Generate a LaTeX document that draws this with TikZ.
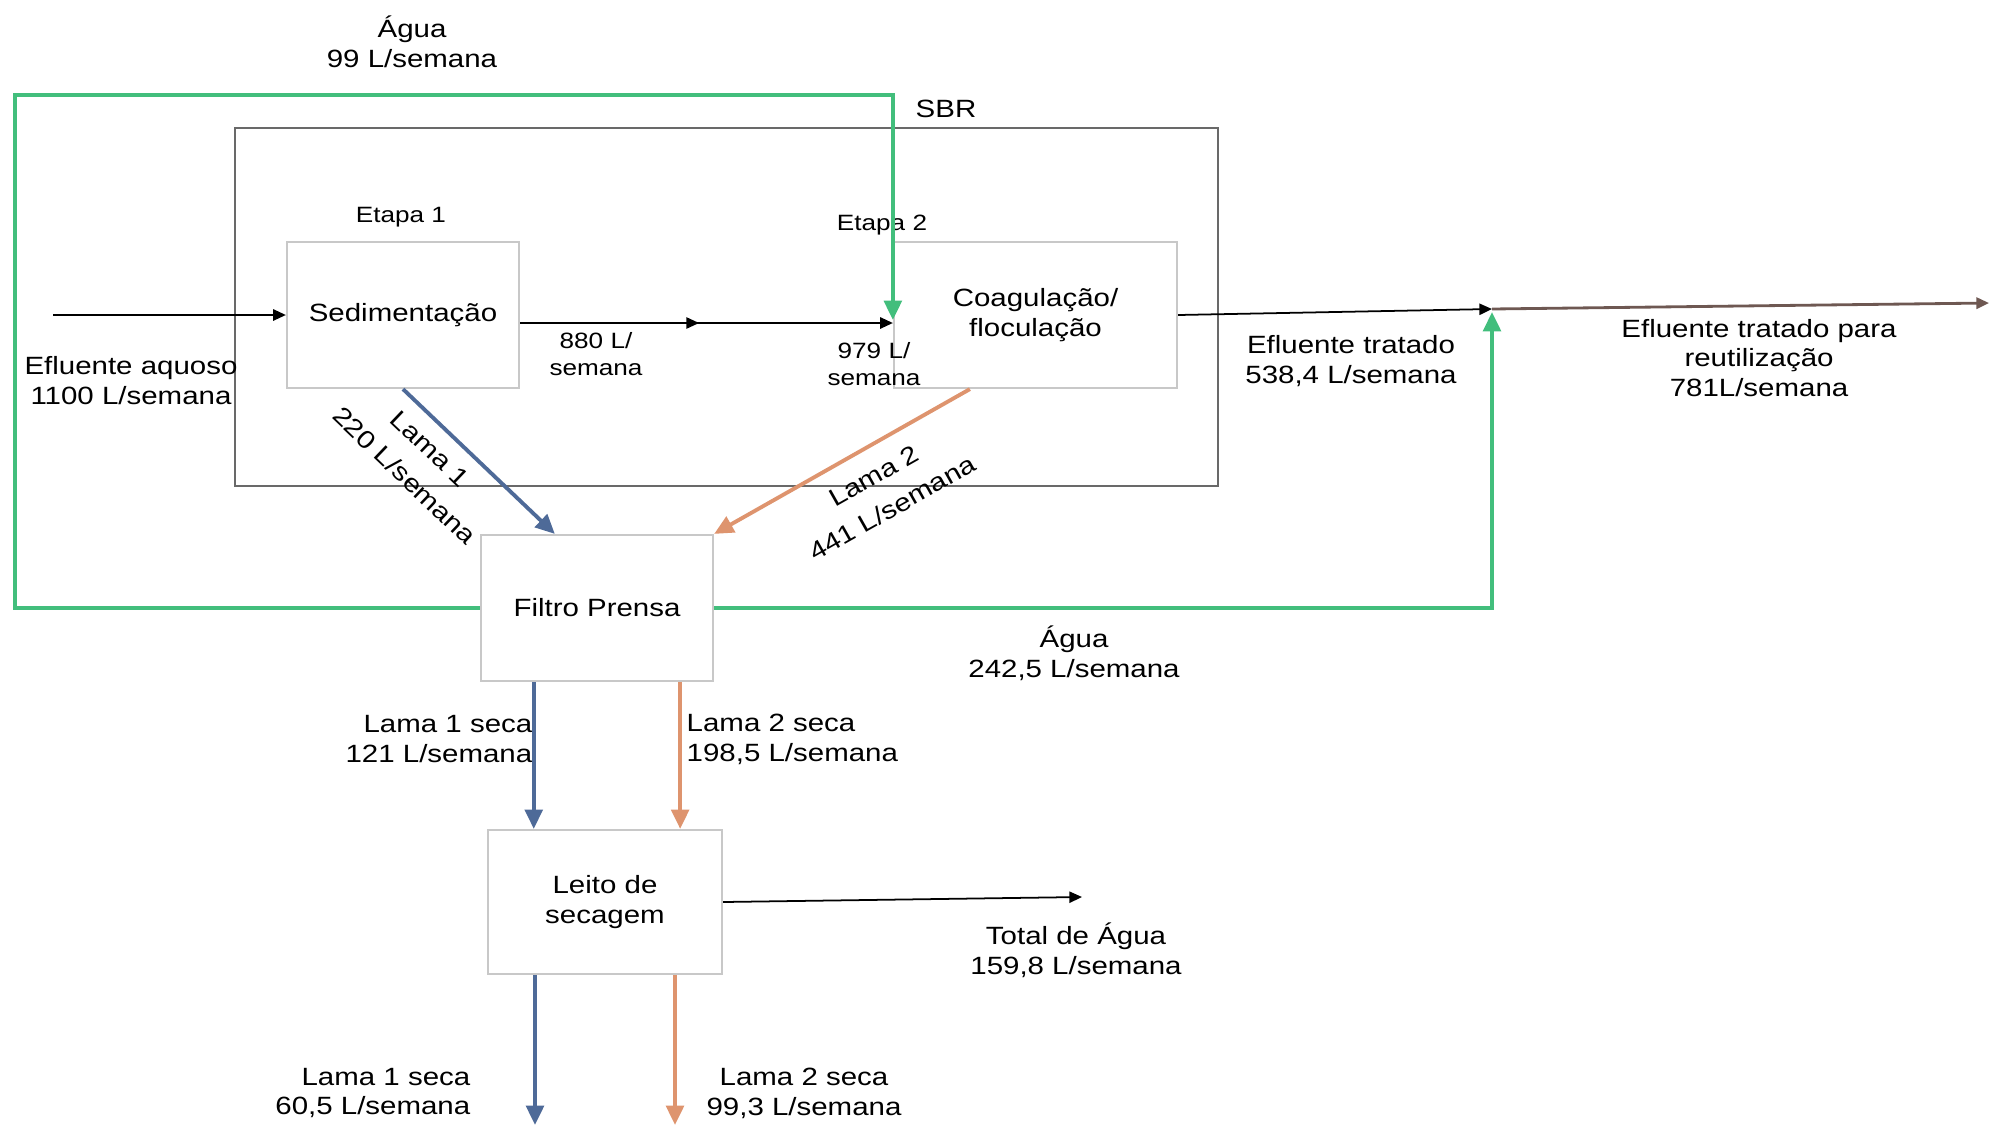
\documentclass[tikz,border=0pt]{standalone}
\usepackage{fontspec}
\setmainfont{Liberation Sans}[FakeStretch=1.18]
\usetikzlibrary{arrows.meta,calc,decorations.markings}

\definecolor{verdeagua}{RGB}{66,190,124}
\definecolor{azullama}{RGB}{78,106,152}
\definecolor{laranjalama}{RGB}{222,148,110}
\definecolor{cinzacaixa}{RGB}{200,200,200}
\definecolor{cinzasbr}{RGB}{105,105,105}
\definecolor{marromsaida}{RGB}{110,88,82}

\newcommand{\txtnormal}{\fontsize{7.1pt}{8.5pt}\selectfont}
\newcommand{\txtpeq}{\fontsize{6.3pt}{7.9pt}\selectfont}

\tikzset{
  caixa/.style={draw=cinzacaixa, line width=0.6pt, minimum width=2.32cm, minimum height=1.46cm, align=center, inner sep=0pt, font=\txtnormal},
  rotulo/.style={align=center, inner sep=0pt, font=\txtnormal},
  rotulopeq/.style={align=center, inner sep=0pt, font=\txtpeq},
  fluxo/.style={line width=0.5pt, -{Triangle[length=3.6pt,width=3.2pt]}},
  meio/.style={postaction={decorate}, decoration={markings, mark=at position 0.48 with {\arrow{Triangle[length=3.6pt,width=3.2pt]}}}},
  agualinha/.style={draw=verdeagua, line width=1.1pt, -{Triangle[length=5.5pt,width=5pt]}},
  lama1linha/.style={draw=azullama, line width=1.1pt, -{Triangle[length=5.5pt,width=5pt]}},
  lama2linha/.style={draw=laranjalama, line width=1.1pt, -{Triangle[length=5.5pt,width=5pt]}},
}

\begin{document}
\begin{tikzpicture}[x=0.01cm,y=-0.01cm]
\useasboundingbox (0,0) rectangle (1989,1127);
\node[draw=cinzasbr, line width=0.6pt, minimum width=9.83cm, minimum height=3.58cm, inner sep=0pt] (sbr) at (726.5,307){};
\node[rotulo] (sbrtxt) at (946,109){SBR};
\node[caixa] (sed) at (403,315){Sedimentação};
\node[caixa, minimum width=2.83cm] (coag) at (1035.5,315){Coagulação/\\floculação};
\node[caixa] (filtro) at (597,608){Filtro Prensa};
\node[caixa, minimum width=2.34cm, minimum height=1.44cm] (leito) at (605,902){Leito de\\secagem};
\node[rotulopeq] (etapa1) at (401,217){Etapa 1};
\node[rotulopeq] (etapa2) at (882,225){Etapa 2};

\node[rotulo] (agua1) at (412,42){Água\\99 L/semana};
\node[rotulo] (eflent) at (131,381){Efluente aquoso\\1100 L/semana};
\node[rotulopeq] (v880) at (596,354){880 L/\\semana};
\node[rotulopeq] (v979) at (874,364){979 L/\\semana};
\node[rotulo] (eftrat) at (1351,361){Efluente tratado\\538,4 L/semana};
\node[rotulo] (efreuso) at (1759,358){Efluente tratado para\\reutilização\\781L/semana};
\node[rotulo] (agua2) at (1074,653){Água\\242,5 L/semana};
\node[rotulo, align=right, anchor=east] (seca1a) at (533,739){Lama 1 seca\\121 L/semana};
\node[rotulo, align=left, anchor=west] (seca2a) at (686,739){Lama 2 seca\\198,5 L/semana};
\node[rotulo] (totagua) at (1076,950){Total de Água\\159,8 L/semana};
\node[rotulo, align=right, anchor=east] (seca1b) at (471,1093){Lama 1 seca\\60,5 L/semana};
\node[rotulo] (seca2b) at (804,1093){Lama 2 seca\\99,3 L/semana};

\coordinate (entrada) at (53,315);
\coordinate (agualimite) at (15,95);
\coordinate (juncao) at (1492,309);
\coordinate (reuso) at (1989,303);
\coordinate (totalagua) at (1082,897);
\coordinate (saida1) at (535,1125);
\coordinate (saida2) at (675,1125);
\coordinate (l1a) at ($(filtro.south west)!0.23!(filtro.south east)$);
\coordinate (l2a) at ($(filtro.south west)!0.855!(filtro.south east)$);

\draw[fluxo](entrada) -- (sed.west);
\draw[fluxo, meio]($(sed.east)+(0,8)$) -- ($(coag.west)+(0,8)$);
\draw[agualinha](filtro.west) -| (agualimite) -| ($(coag.west)+(0,5)$);
\draw[fluxo](coag.east) -- (juncao);
\draw[fluxo, draw=marromsaida, line width=0.8pt](juncao) -- (reuso);
\draw[agualinha](filtro.east) -| ($(juncao)+(0,3)$);
\draw[lama1linha](sed.south) -- ($(filtro.north west)!0.32!(filtro.north east)$)
  node[rotulo, pos=0.29, sloped, below=4pt]{Lama 1\\[2pt]220 L/semana};
\draw[lama2linha]($(coag.south west)!0.27!(coag.south east)$) -- (filtro.north east)
  node[rotulo, pos=0.43, sloped, below=5pt]{Lama 2\\[2pt]441 L/semana};
\draw[lama1linha](l1a) -- (l1a |- leito.north);
\draw[lama2linha](l2a) -- (l2a |- leito.north);
\draw[fluxo](leito.east) -- (totalagua);
\draw[lama1linha](saida1 |- leito.south) -- (saida1);
\draw[lama2linha](saida2 |- leito.south) -- (saida2);
\end{tikzpicture}
\end{document}
